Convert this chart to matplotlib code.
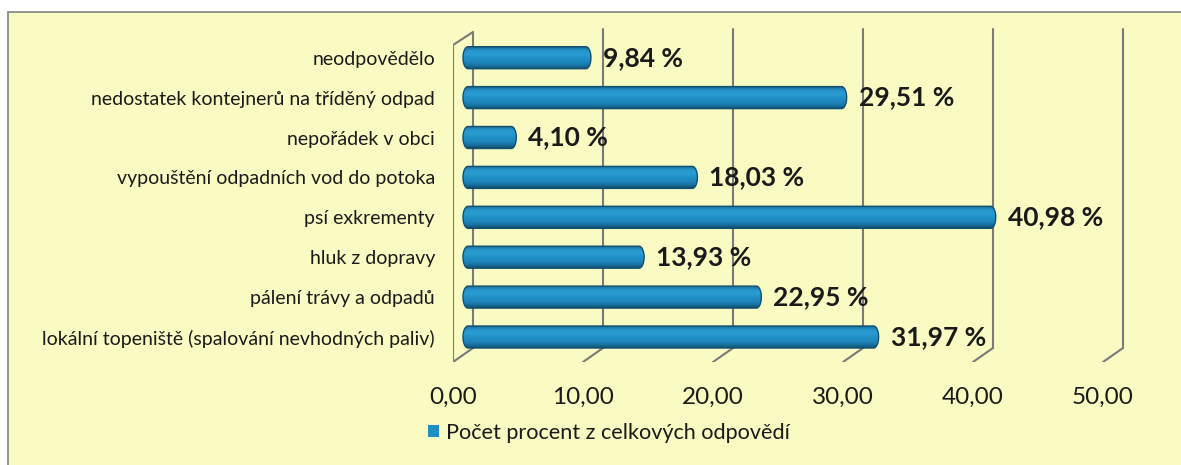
"""Horizontal 3D-style cylinder bar chart, saved to out.png."""
import numpy as np
import matplotlib
matplotlib.use("Agg")
import matplotlib.pyplot as plt
from matplotlib import transforms
from matplotlib.patches import Rectangle, PathPatch, Patch
from matplotlib.path import Path
from matplotlib.colors import LinearSegmentedColormap

categories = [
    "lokální topeniště (spalování nevhodných paliv)",
    "pálení trávy a odpadů",
    "hluk z dopravy",
    "psí exkrementy",
    "vypouštění odpadních vod do potoka",
    "nepořádek v obci",
    "nedostatek kontejnerů na tříděný odpad",
    "neodpovědělo",
]
values = [31.97, 22.95, 13.93, 40.98, 18.03, 4.10, 29.51, 9.84]
ticks = [0, 10, 20, 30, 40, 50]
series_name = "Počet procent z celkových odpovědí"

plt.rcParams["font.family"] = ["Lato", "DejaVu Sans"]

W, H, DPI = 1181, 465, 100
PX = 13.0          # pixels per percent
ROW = 39.9         # pixels between bars
ZERO_PX = 463      # pixel x of value 0 (bar plane)
AX_L, AX_R = 453, 1181
AX_TOP, AX_BOT = 20, 362
BAR0_PX = 337      # pixel y of first bar centre

fig = plt.figure(figsize=(W / DPI, H / DPI), dpi=DPI, facecolor="white")
bg = fig.add_axes([0, 0, 1, 1], zorder=-5)
bg.set_axis_off()
bg.add_patch(Rectangle((8 / W, -0.01), 1.0, (H - 12) / H + 0.01,
                       transform=bg.transAxes, facecolor="#fafac3",
                       edgecolor="#8c8c8c", lw=1.3))

ax = fig.add_axes([AX_L / W, (H - AX_BOT) / H, (AX_R - AX_L) / W, (AX_BOT - AX_TOP) / H])
ax.set_facecolor("none")
for s in ax.spines.values():
    s.set_visible(False)

xlim = ((AX_L - ZERO_PX) / PX, (AX_R - ZERO_PX) / PX)
ylim = (-(AX_BOT - BAR0_PX) / ROW, (BAR0_PX - AX_TOP) / ROW)

# back wall / floor lines (x in data, y in axes fraction)
blend = transforms.blended_transform_factory(ax.transData, ax.transAxes)
depth = 10 / PX
ah = AX_BOT - AX_TOP
y_floor = 14 / ah
y_top = (AX_BOT - 29) / ah
wall = dict(color="#7a7a7a", lw=1.5, transform=blend, solid_capstyle="round")
for v in ticks:
    top = (AX_BOT - 32) / ah if v == 0 else y_top
    ax.plot([v + depth, v + depth], [y_floor, top], **wall)
    ax.plot([v + depth, v - depth], [y_floor, 0], **wall)
ax.plot([-depth, -depth, depth], [0, (AX_BOT - 45) / ah, (AX_BOT - 32) / ah], **wall)

# cylinder bars
cmap = LinearSegmentedColormap.from_list(
    "cyl", ["#0f4f70", "#1a76a6", "#1e88bf", "#2190c7", "#2a9cd2", "#2697cd", "#1a6d96"])
grad = np.linspace(0, 1, 64).reshape(-1, 1)
h = 22 / ROW
rx = 5 / PX
t = np.linspace(-np.pi / 2, np.pi / 2, 30)
for i, v in enumerate(values):
    y0, y1 = i - h / 2, i + h / 2
    right = np.column_stack([v - rx + rx * np.cos(t), i + h / 2 * np.sin(t)])
    left = np.column_stack([rx - rx * np.cos(t[::-1]), i + h / 2 * np.sin(t[::-1])])
    verts = np.vstack([right, left, right[:1]])
    patch = PathPatch(Path(verts, closed=True), facecolor="none",
                      edgecolor="#11506f", lw=1.0, zorder=3)
    ax.add_patch(patch)
    im = ax.imshow(grad, extent=[0, v, y0, y1], origin="lower", cmap=cmap,
                   aspect="auto", zorder=2, interpolation="bilinear")
    im.set_clip_path(patch)
    ax.text(v + 12 / PX, i, f"{v:.2f} %".replace(".", ","), fontsize=19,
            fontweight="bold", color="#1a1a1a", va="center", ha="left", zorder=5)

ax.set_xlim(*xlim)
ax.set_ylim(*ylim)
ax.set_yticks(range(len(categories)), categories, fontsize=14, color="#1a1a1a")
ax.tick_params(axis="y", length=0, pad=13)
ax.set_xticks([])

for v in ticks:
    ax.text(v - depth, -35 / ah, f"{v:.2f}".replace(".", ","), transform=blend,
            fontsize=17.5, color="#1a1a1a", ha="center", va="center")

fig.legend(handles=[Patch(facecolor="#1f8ec2", edgecolor="none")], labels=[series_name],
           loc="center left", bbox_to_anchor=(428 / W, 32 / H), frameon=False,
           fontsize=15.6, handlelength=0.5, handleheight=0.5, handletextpad=0.35,
           borderpad=0, borderaxespad=0, labelcolor="#1a1a1a")

fig.savefig("out.png", dpi=DPI)
